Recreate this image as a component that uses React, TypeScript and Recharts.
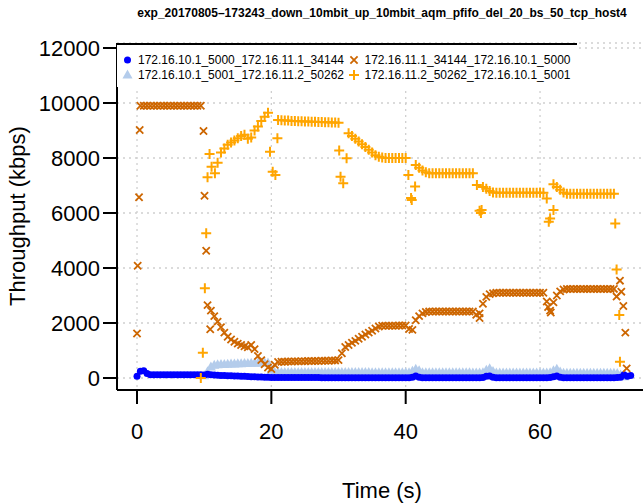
import { ScatterChart, Scatter, XAxis, YAxis, CartesianGrid } from "recharts";

// time grid in seconds (0 .. 73.5, half-second samples)
const time = [
  0, 0.5, 1, 1.5, 2, 2.5, 3, 3.5, 4, 4.5,
  5, 5.5, 6, 6.5, 7, 7.5, 8, 8.5, 9, 9.5,
  10, 10.5, 11, 11.5, 12, 12.5, 13, 13.5, 14, 14.5,
  15, 15.5, 16, 16.5, 17, 17.5, 18, 18.5, 19, 19.5,
  20, 20.5, 21, 21.5, 22, 22.5, 23, 23.5, 24, 24.5,
  25, 25.5, 26, 26.5, 27, 27.5, 28, 28.5, 29, 29.5,
  30, 30.5, 31, 31.5, 32, 32.5, 33, 33.5, 34, 34.5,
  35, 35.5, 36, 36.5, 37, 37.5, 38, 38.5, 39, 39.5,
  40, 40.5, 41, 41.5, 42, 42.5, 43, 43.5, 44, 44.5,
  45, 45.5, 46, 46.5, 47, 47.5, 48, 48.5, 49, 49.5,
  50, 50.5, 51, 51.5, 52, 52.5, 53, 53.5, 54, 54.5,
  55, 55.5, 56, 56.5, 57, 57.5, 58, 58.5, 59, 59.5,
  60, 60.5, 61, 61.5, 62, 62.5, 63, 63.5, 64, 64.5,
  65, 65.5, 66, 66.5, 67, 67.5, 68, 68.5, 69, 69.5,
  70, 70.5, 71, 71.5, 72, 72.5, 73, 73.5,
];

// 172.16.10.1_5000_172.16.11.1_34144
const flowA = [
  60, 250, 260, 160, 120, 115, 115, 115, 115, 115,
  115, 115, 115, 115, 115, 115, 115, 115, 115, 115,
  110, 140, 120, 110, 100, 95, 90, 85, 80, 75,
  70, 65, 60, 55, 50, 45, 40, 35, 30, 25,
  20, 15, 15, 15, 15, 15, 15, 15, 15, 15,
  15, 15, 15, 15, 15, 12, 12, 12, 12, 12,
  12, 12, 12, 12, 12, 12, 12, 12, 12, 12,
  10, 10, 10, 10, 10, 10, 10, 10, 10, 10,
  10, 10, 30, 70, 30, 10, 10, 10, 10, 10,
  10, 10, 10, 10, 10, 10, 10, 10, 10, 10,
  10, 10, 10, 20, 60, 70, 30, 10, 10, 10,
  10, 10, 10, 10, 10, 10, 10, 10, 10, 10,
  10, 10, 10, 20, 50, 70, 30, 10, 10, 10,
  10, 10, 10, 10, 10, 10, 10, 10, 10, 10,
  10, 10, 10, 20, 30, 120, 60, 90,
];

// 172.16.10.1_5001_172.16.11.2_50262
const flowB = [
  null, null, null, null, null, null, null, null, null, null,
  null, null, null, null, null, null, null, null, null, null,
  80, 230, 400, 460, 480, 490, 495, 500, 505, 510,
  515, 520, 525, 530, 535, 540, 545, 550, 555, 550,
  280, 210, 200, 200, 200, 200, 200, 200, 200, 200,
  200, 200, 200, 200, 200, 200, 200, 200, 200, 200,
  200, 200, 200, 200, 200, 200, 200, 200, 200, 200,
  195, 195, 195, 195, 195, 195, 195, 195, 195, 195,
  195, 195, 250, 320, 260, 195, 190, 190, 190, 190,
  190, 190, 190, 190, 190, 190, 190, 190, 190, 190,
  185, 185, 185, 190, 280, 340, 240, 185, 180, 180,
  180, 180, 180, 180, 180, 180, 180, 180, 180, 180,
  180, 180, 180, 190, 260, 320, 220, 175, 170, 170,
  170, 170, 170, 170, 170, 170, 170, 170, 170, 170,
  170, 170, 170, 160, 110, 50, null, null,
];

// 172.16.11.1_34144_172.16.10.1_5000
const flowC = [
  null, 9900, 9900, 9900, 9900, 9900, 9900, 9900, 9900, 9900,
  9900, 9900, 9900, 9900, 9900, 9900, 9900, 9900, 9900, 9900,
  null, 2650, 2450, 2250, 2050, 1850, 1650, 1500, 1400, 1320,
  1250, 1200, 1150, 1120, 1200, 1050, 800, 650, 500, 380,
  330, 480, 580, 590, 595, 600, 600, 605, 605, 610,
  610, 615, 615, 620, 620, 625, 625, 630, 635, 640,
  650, 900, 1130, 1200, 1280, 1350, 1430, 1500, 1580, 1650,
  1720, 1800, 1870, 1900, 1900, 1900, 1900, 1900, 1910, 1910,
  1910, 1780, 1750, 2100, 2250, 2350, 2400, 2420, 2420, 2420,
  2420, 2420, 2420, 2420, 2420, 2420, 2420, 2420, 2420, 2420,
  2420, 2300, 2180, 2700, 2950, 3050, 3080, 3100, 3100, 3100,
  3100, 3100, 3100, 3100, 3100, 3100, 3100, 3100, 3100, 3100,
  3100, 3100, 2780, 2450, 2750, 3000, 3150, 3220, 3240, 3240,
  3240, 3240, 3240, 3240, 3240, 3240, 3240, 3240, 3240, 3240,
  3240, 3240, 3240, null, null, null, null, null,
];
const flowCExtraT = [0, 0.1, 0.3, 0.4, 9.9, 10.05, 10.3, 10.9, 51, 61.2, 61.6, 71.4, 71.9, 72.1, 72.4, 72.7, 72.9];
const flowCExtraV = [1620, 4080, 6570, 9020, 8980, 6630, 4630, 1770, 2350, 2580, 2380, 2960, 3540, 3140, 2620, 1650, 350];

// 172.16.11.2_50262_172.16.10.1_5001
const flowD = [
  null, null, null, null, null, null, null, null, null, null,
  null, null, null, null, null, null, null, null, null, null,
  null, null, null, null, null, 8200, 8350, 8480, 8560, 8640,
  8720, 8800, 8850, 8700, 8750, 9000, 9150, 9350, 9500, 9650,
  null, null, 9380, 9370, 9360, 9360, 9350, 9350, 9340, 9340,
  9330, 9330, 9320, 9320, 9310, 9310, 9300, 9300, 9290, 9290,
  9280, null, null, 8900, 8800, 8700, 8600, 8500, 8400, 8300,
  8200, 8100, 8050, 8020, 8000, 8000, 8000, 8000, 8000, 8000,
  8000, null, null, 7750, 7650, 7550, 7480, 7450, 7450, 7450,
  7450, 7450, 7450, 7450, 7450, 7450, 7450, 7450, 7450, 7450,
  7450, null, null, 6950, 6880, 6800, 6750, 6740, 6740, 6740,
  6740, 6740, 6740, 6740, 6740, 6740, 6740, 6740, 6740, 6740,
  6740, 6740, null, null, 7050, 6950, 6850, 6750, 6700, 6700,
  6700, 6700, 6700, 6700, 6700, 6700, 6700, 6700, 6700, 6700,
  6700, 6700, 6700, null, null, null, null, null,
];
const flowDExtraT = [
  9.5, 9.8, 10.1, 10.3, 10.5, 10.8, 11.1, 11.6, 12, 19.8, 20.2, 20.6, 20.9,
  30.1, 30.3, 30.7, 31.2, 40.4, 40.8, 40.9, 41.4, 50.6, 51, 51.2, 51.3,
  61, 61.3, 61.5, 62, 71.2, 71.4, 71.8, 71.9,
];
const flowDExtraV = [
  0, 920, 3260, 5260, 7300, 8150, 7680, 7450, 7830, 8230, 7500, 7380, 8720,
  8270, 7320, 7080, 7990, 7380, 6550, 6470, 6960, 7020, 6080, 6000, 6110,
  6530, 5680, 5800, 6110, 5620, 3950, 2290, 590,
];

const xTicks = [0, 20, 40, 60];
const yTicks = [0, 2000, 4000, 6000, 8000, 10000, 12000];

const BLUE = "#0000FF";
const LIGHT = "#B4CCEB";
const DARK = "#CD6600";
const ORANGE = "#FFA500";
const FONT = '"Liberation Sans", Arial, Helvetica, sans-serif';

function toPoints(vals: (number | null)[], extraT: number[] = [], extraV: number[] = []) {
  const pts: { t: number; v: number }[] = [];
  vals.forEach((v, i) => {
    if (v !== null) pts.push({ t: time[i], v });
  });
  extraT.forEach((t, i) => pts.push({ t, v: extraV[i] }));
  return pts;
}

const dataA = toPoints(flowA);
const dataB = toPoints(flowB);
const dataC = toPoints(flowC, flowCExtraT, flowCExtraV);
const dataD = toPoints(flowD, flowDExtraT, flowDExtraV);

const Dot = (p: any) => <circle cx={p.cx} cy={p.cy} r={3.5} fill={BLUE} />;
const Tri = (p: any) => (
  <polygon
    points={`${p.cx},${p.cy - 5.5} ${p.cx - 5},${p.cy + 3.5} ${p.cx + 5},${p.cy + 3.5}`}
    fill={LIGHT}
  />
);
const Cross = (p: any) => (
  <path
    d={`M${p.cx - 3.6},${p.cy - 3.6}L${p.cx + 3.6},${p.cy + 3.6}M${p.cx - 3.6},${p.cy + 3.6}L${p.cx + 3.6},${p.cy - 3.6}`}
    stroke={DARK}
    strokeWidth={1.8}
  />
);
const Plus = (p: any) => (
  <path
    d={`M${p.cx - 5},${p.cy}L${p.cx + 5},${p.cy}M${p.cx},${p.cy - 5}L${p.cx},${p.cy + 5}`}
    stroke={ORANGE}
    strokeWidth={2}
  />
);

const legendItems = [
  { name: "172.16.10.1_5000_172.16.11.1_34144", shape: Dot, col: 0, row: 0 },
  { name: "172.16.10.1_5001_172.16.11.2_50262", shape: Tri, col: 0, row: 1 },
  { name: "172.16.11.1_34144_172.16.10.1_5000", shape: Cross, col: 1, row: 0 },
  { name: "172.16.11.2_50262_172.16.10.1_5001", shape: Plus, col: 1, row: 1 },
];

export default function App() {
  const tickStyle = { fill: "#000", fontSize: 22, fontFamily: FONT };
  return (
    <div
      style={{
        position: "absolute",
        left: 0,
        top: 0,
        width: 643,
        height: 504,
        overflow: "hidden",
        background: "#fff",
        fontFamily: FONT,
      }}
    >
      <ScatterChart width={660} height={504} margin={{ top: 43, right: 12.5, bottom: 54, left: 57 }}>
        <CartesianGrid stroke="#cfcfcf" strokeDasharray="2 4" strokeWidth={1.3} />
        <XAxis
          type="number"
          dataKey="t"
          domain={[-2.98, 76]}
          ticks={xTicks}
          allowDataOverflow
          height={60}
          stroke="#000"
          strokeWidth={2}
          tickSize={14}
          tickMargin={19}
          tick={tickStyle}
        />
        <YAxis
          type="number"
          dataKey="v"
          domain={[-436, 12182]}
          ticks={yTicks}
          allowDataOverflow
          width={60}
          stroke="#000"
          strokeWidth={2}
          tickSize={14}
          tickMargin={3}
          tick={tickStyle}
        />
        <Scatter data={dataB} shape={Tri} isAnimationActive={false} />
        <Scatter data={dataA} shape={Dot} isAnimationActive={false} />
        <Scatter data={dataC} shape={Cross} isAnimationActive={false} />
        <Scatter data={dataD} shape={Plus} isAnimationActive={false} />
      </ScatterChart>

      <div
        style={{
          position: "absolute",
          left: 0,
          width: 764,
          top: 6,
          textAlign: "center",
          fontWeight: "bold",
          fontSize: 12,
          whiteSpace: "nowrap",
        }}
      >
        exp_20170805–173243_down_10mbit_up_10mbit_aqm_pfifo_del_20_bs_50_tcp_host4
      </div>

      <svg
        width={460}
        height={44}
        style={{ position: "absolute", left: 117, top: 43, background: "#fff" }}
      >
        <line x1={0} y1={1} x2={460} y2={1} stroke="#000" strokeWidth={2} />
        {legendItems.map((it) => {
          const mx = it.col === 0 ? 10.5 : 237;
          const my = it.row === 0 ? 17 : 32;
          const S = it.shape;
          return (
            <g key={it.name}>
              <S cx={mx} cy={my} />
              <text x={mx + 10.5} y={my + 4.2} fontSize={12} fill="#000" fontFamily={FONT}>
                {it.name}
              </text>
            </g>
          );
        })}
      </svg>

      <div
        style={{
          position: "absolute",
          left: 18,
          top: 216,
          transform: "translate(-50%, -50%) rotate(-90deg)",
          fontSize: 22,
          whiteSpace: "nowrap",
        }}
      >
        Throughput (kbps)
      </div>
      <div
        style={{
          position: "absolute",
          left: 382,
          top: 478,
          transform: "translateX(-50%)",
          fontSize: 22,
          whiteSpace: "nowrap",
        }}
      >
        Time (s)
      </div>
    </div>
  );
}
